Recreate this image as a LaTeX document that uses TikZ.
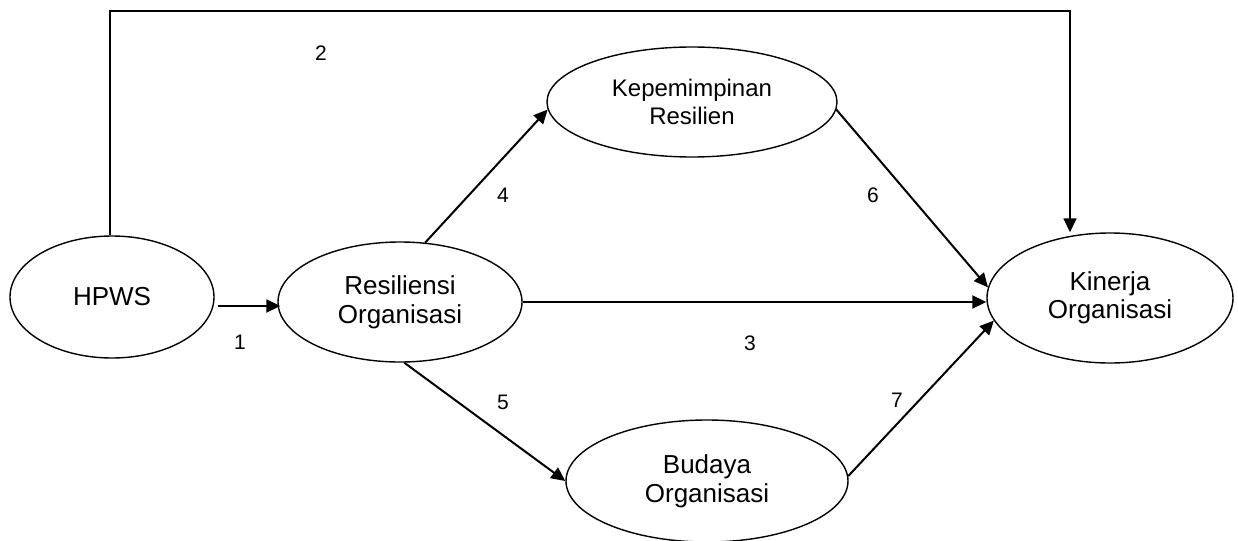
\documentclass[tikz,border=0pt]{standalone}
\usepackage{fontspec}
\setmainfont{Liberation Sans}
\usetikzlibrary{shapes.geometric,arrows.meta}
\begin{document}
\begin{tikzpicture}[x=0.5pt,y=-0.5pt,
  construct/.style={draw=black,line width=0.7pt,ellipse,inner sep=0pt,align=center,
    font=\fontsize{13}{14.5}\selectfont},
  arr/.style={line width=1pt,-{Triangle[length=7pt,width=6.5pt]}},
  num/.style={inner sep=0pt,font=\fontsize{10.5}{12}\selectfont}]
\useasboundingbox (0,0) rectangle (1238,541);

% constructs (sizes in pt: half the pixel extents)
\node[construct,minimum width=102pt,minimum height=61pt] (hpws) at (112,297) {HPWS};
\node[construct,minimum width=122pt,minimum height=60pt] (res) at (400,302) {Resiliensi\\Organisasi};
\node[construct,minimum width=145pt,minimum height=55pt,font=\fontsize{12}{14}\selectfont] (kep) at (692,102) {Kepemimpinan\\Resilien};
\node[construct,minimum width=123pt,minimum height=65pt,font=\fontsize{13}{14}\selectfont] (kin) at (1110,298) {Kinerja\\Organisasi};
\node[construct,minimum width=141pt,minimum height=61pt] (bud) at (707,481) {Budaya\\Organisasi};

% paths between constructs
\coordinate (c2) at (1070,11);
\draw[arr,line width=0.8pt] (hpws.north -| 110,0) -- (110,11) -- (c2) -- (c2 |- kin.north);
\draw[arr] ([shift={(3,9)}]hpws.east) -- ([shift={(3,9)}]hpws.east -| res.west);
\draw[arr] (res.east) -- (res.east -| kin.west);
\draw[arr] (res.67) -- (kep.183);
\draw[arr] (res.-86) -- (bud.west);
\draw[arr] (kep.-3) -- (kin.175);
\draw[arr] (bud.2) -- (kin.191);

% path numbers
\node[num] (n1) at (240,342) {1};
\node[num] (n2) at (321,53) {2};
\node[num] (n3) at (750,343) {3};
\node[num] (n4) at (503,195) {4};
\node[num] (n5) at (503,402) {5};
\node[num] (n6) at (873,195) {6};
\node[num] (n7) at (897,400) {7};
\end{tikzpicture}
\end{document}
